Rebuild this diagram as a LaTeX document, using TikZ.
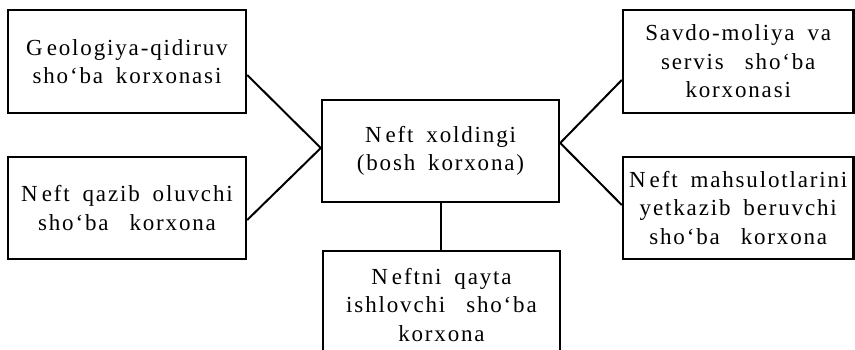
\documentclass[tikz,border=0pt]{standalone}
\usepackage{fontspec}
\setmainfont{Liberation Serif}[LetterSpace=8,WordSpace=1.7]
\newcommand{\xsp}{\hspace{0.35em}\ignorespaces}
\newcommand{\capgap}{\kern4pt}
\begin{document}
\begin{tikzpicture}[x=1pt,y=-1pt,
  boxnode/.style={draw,line width=2.4pt,rectangle,inner sep=0pt,align=center,
    font=\fontsize{23}{28.5}\selectfont},
  link/.style={line width=2pt}]
\useasboundingbox (0,0) rectangle (855,350);
\clip (0,0) rectangle (855,350);
\node[boxnode,minimum width=238pt,minimum height=103pt] (lt) at (127,61.5)
  {G\capgap eologiya-qidiruv\\sho‘ba korxonasi};
\node[boxnode,minimum width=238pt,minimum height=102pt] (lb) at (127,208)
  {N\capgap eft qazib oluvchi\\sho‘ba \xsp korxona};
\node[boxnode,minimum width=237pt,minimum height=102pt] (c) at (440.5,151)
  {N\capgap eft xoldingi\\(bosh korxona)};
\node[boxnode,minimum width=237pt,minimum height=108pt] (bt) at (441.5,305)
  {N\capgap eftni qayta\\ishlovchi \xsp sho‘ba\\korxona};
\node[boxnode,minimum width=230.5pt,minimum height=103pt] (rt) at (738.25,61.5)
  {Savdo-moliya va\\servis \xsp sho‘ba\\korxonasi};
\node[boxnode,minimum width=230.5pt,minimum height=102pt] (rb) at (738.25,208)
  {N\capgap eft mahsulotlarini\\yetkazib beruvchi\\sho‘ba \xsp korxona};
\draw[link] ([yshift=-13.5pt]lt.east) -- ([yshift=3pt]c.west);
\draw[link] ([yshift=-12pt]lb.east) -- ([yshift=3pt]c.west);
\draw[link] ([yshift=8pt]c.east) -- ([yshift=-18.5pt]rt.west);
\draw[link] ([yshift=8pt]c.east) -- ([yshift=3pt]rb.west);
\draw[link] (c.south) -- (c.south |- bt.north);
\end{tikzpicture}
\end{document}
